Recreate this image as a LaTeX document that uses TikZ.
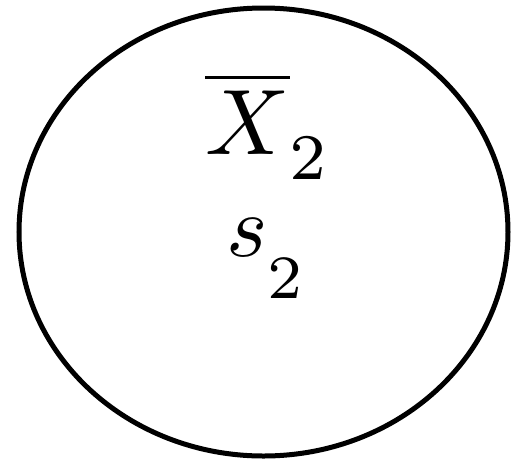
\documentclass[tikz,border=0pt]{standalone}
\usepackage{graphicx}
\usetikzlibrary{shapes.geometric}
\begin{document}
\begin{tikzpicture}[x=1pt,y=-1pt,
  outline/.style={draw=black,line width=5pt,ellipse,inner sep=0pt,minimum width=489pt,minimum height=448pt},
  lbl/.style={inner sep=0pt,anchor=base west}]
\useasboundingbox (0,0) rectangle (512,459);
\node[outline] (c) at (263.5,232) {};
\node[lbl] (x) at (205,154) {\scalebox{9.3}{$\overline{X}_{\lower1.2pt\hbox{$\scriptstyle 2$}}$}};
\node[lbl] (s) at (226,256) {\scalebox{8.8}{$s_{\lower3.3pt\hbox{$\scriptstyle 2$}}$}};
\end{tikzpicture}
\end{document}
